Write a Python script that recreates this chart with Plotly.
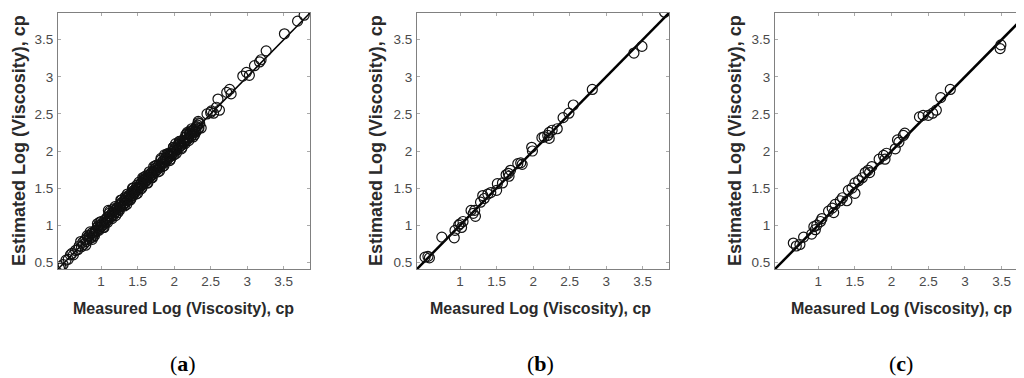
import plotly.graph_objects as go

W, H = 1024, 378

# ---- data ----
a_meas = [0.43,0.45,0.48,0.52,0.55,0.58,0.62,0.65,0.68,0.70,0.73,0.75,0.78,0.80,0.82,0.84,0.86,0.88,0.90,0.92,
          0.95,0.97,0.99,1.00,1.02,1.04,1.05,1.07,1.08,1.10,1.10,1.12,1.13,1.15,1.17,1.18,1.20,1.22,1.24,1.25,
          1.27,1.28,1.30,1.32,1.33,1.35,1.37,1.38,1.40,1.42,1.43,1.45,1.47,1.48,1.50,1.52,1.53,1.55,1.57,1.58,
          1.60,1.62,1.63,1.65,1.67,1.68,1.70,1.72,1.73,1.75,1.77,1.78,1.80,1.82,1.83,1.85,1.87,1.88,1.90,1.92,
          1.94,1.95,1.97,1.99,2.00,2.02,2.04,2.05,2.07,2.08,2.10,2.12,2.14,2.15,2.17,2.18,2.20,2.22,2.24,2.25,
          2.27,2.28,2.30,2.32,2.33,2.35,2.45,2.50,2.51,2.54,2.58,2.60,2.62,2.72,2.76,2.78,2.94,2.99,3.03,3.10,
          3.17,3.19,3.26,3.51,3.69,3.78,
          0.60,0.76,0.83,0.87,0.93,0.96,1.01,1.06,1.09,1.14,1.16,1.19,1.21,1.26,1.29,1.31,1.34,1.36,1.39,1.41,
          1.44,1.46,1.49,1.51,1.54,1.56,1.59,1.61,1.64,1.66,1.69,1.71,1.74,1.76,1.79,1.81,1.84,1.86,1.89,1.91,
          1.93,1.96,1.98,2.01,2.03,2.06,2.09,2.11,2.13,2.16,2.19,2.21,2.23,2.26,2.29,2.31,2.34,1.45,1.58,0.97,
          0.72,0.79,0.85,0.91,0.98,1.03,1.11,1.15,1.19,1.23,1.28,1.32,1.36,1.40,1.44,1.48,1.52,1.55,1.59,1.63,
          1.66,1.70,1.74,1.78,1.82,1.86,1.90,1.95,1.99,2.03,2.07,2.11,2.16,2.20,2.24,2.28,2.33,2.37,
          0.81,0.89,1.00,1.09,1.17,1.25,1.33,1.41,1.49,1.56,1.62,1.69,1.76,1.84,1.92,2.00,2.08,2.15,2.22,2.30,
          0.88,0.95,1.04,1.12,1.20,1.27,1.35,1.43,1.50,1.57,1.64,1.72,1.80,1.87,1.94,2.02,2.10,2.18,2.26,2.33]
a_est = [0.42,0.44,0.47,0.53,0.54,0.60,0.60,0.66,0.67,0.72,0.71,0.77,0.80,0.78,0.84,0.86,0.83,0.90,0.88,0.93,
         0.97,0.95,1.00,0.98,1.03,1.01,1.07,1.05,1.10,1.20,1.08,1.13,1.10,1.16,1.14,1.20,1.18,1.23,1.21,1.27,
         1.25,1.30,1.27,1.33,1.30,1.37,1.34,1.40,1.38,1.43,1.40,1.47,1.45,1.50,1.48,1.53,1.51,1.57,1.55,1.60,
         1.58,1.63,1.61,1.67,1.65,1.70,1.68,1.73,1.71,1.77,1.75,1.80,1.78,1.90,1.82,1.86,1.85,1.90,1.88,1.93,
         1.92,1.97,1.96,2.05,1.98,2.03,2.02,2.07,2.05,2.10,2.08,2.13,2.12,2.18,2.15,2.23,2.18,2.23,2.21,2.27,
         2.25,2.30,2.32,2.35,2.30,2.37,2.50,2.52,2.54,2.51,2.59,2.70,2.55,2.79,2.83,2.77,3.01,3.06,3.02,3.15,
         3.20,3.23,3.35,3.58,3.75,3.83,
         0.62,0.74,0.81,0.89,0.91,0.99,0.99,1.04,1.11,1.12,1.18,1.17,1.23,1.24,1.31,1.29,1.36,1.33,1.41,1.39,
         1.46,1.44,1.51,1.49,1.56,1.54,1.61,1.59,1.66,1.64,1.71,1.69,1.76,1.74,1.81,1.79,1.86,1.84,1.91,1.89,
         1.96,1.94,2.00,2.04,2.01,2.09,2.07,2.14,2.11,2.19,2.16,2.24,2.20,2.28,2.27,2.33,2.31,1.42,1.62,0.93,
         0.78,0.73,0.91,0.86,1.04,0.97,1.16,1.09,1.25,1.17,1.34,1.26,1.42,1.34,1.50,1.42,1.58,1.49,1.65,1.57,
         1.72,1.64,1.80,1.72,1.88,1.80,1.96,1.89,2.05,1.97,2.13,2.05,2.22,2.14,2.30,2.22,2.38,2.31,
         0.86,0.84,1.05,1.04,1.22,1.20,1.38,1.36,1.54,1.51,1.67,1.64,1.81,1.79,1.97,1.95,2.13,2.10,2.27,2.26,
         0.81,1.02,0.97,1.19,1.13,1.34,1.28,1.50,1.43,1.64,1.57,1.79,1.73,1.95,1.87,2.10,2.03,2.25,2.19,2.40]

b_meas = [3.80,3.49,3.38,2.81,2.55,2.49,2.41,2.33,2.26,2.22,2.20,2.15,2.12,2.22,1.98,1.99,1.83,1.79,1.85,1.69,
          1.66,1.67,1.63,1.58,1.51,1.50,1.42,1.38,1.31,1.33,1.28,1.20,1.18,1.21,1.15,1.04,1.00,0.98,1.02,0.93,
          0.92,0.75,0.56,0.52,0.58]
b_est = [3.87,3.41,3.32,2.83,2.62,2.51,2.45,2.30,2.28,2.25,2.21,2.19,2.18,2.17,2.05,2.00,1.84,1.83,1.82,1.74,
         1.70,1.66,1.68,1.57,1.56,1.47,1.44,1.42,1.40,1.36,1.31,1.20,1.16,1.12,1.20,1.05,1.02,1.00,0.97,0.93,
         0.83,0.84,0.58,0.57,0.56]

c_meas = [3.49,3.48,2.80,2.67,2.61,2.56,2.50,2.43,2.38,2.18,2.16,2.08,2.05,2.10,1.93,1.89,1.83,1.91,1.73,1.68,
          1.64,1.70,1.60,1.55,1.50,1.46,1.41,1.50,1.39,1.33,1.30,1.23,1.19,1.14,1.21,1.05,1.03,0.98,0.94,0.96,
          0.91,0.80,0.75,0.66,0.70]
c_est = [3.43,3.38,2.83,2.72,2.55,2.51,2.48,2.48,2.46,2.24,2.21,2.15,2.03,2.12,1.97,1.94,1.89,1.89,1.79,1.74,
         1.71,1.71,1.64,1.60,1.57,1.50,1.47,1.43,1.33,1.37,1.33,1.28,1.23,1.19,1.17,1.09,1.05,1.00,0.98,0.94,
         0.88,0.84,0.74,0.76,0.72]

axis_range = [0.41, 3.86]
tick_vals = [0.5, 1, 1.5, 2, 2.5, 3, 3.5]
x_tick_vals = [1, 1.5, 2, 2.5, 3, 3.5]
tick_text_y = ["0.5", "1", "1.5", "2", "2.5", "3", "3.5"]
tick_text_x = ["1", "1.5", "2", "2.5", "3", "3.5"]
panel_labels = ["a", "b", "c"]
x_title = "Measured Log (Viscosity), cp"
y_title = "Estimated Log (Viscosity), cp"

# ---- layout geometry (pixels) ----
panels_px = [(50, 302), (409, 661), (767, 1020)]
xtitle_cx = [175, 532, 893]
ytitle_cx = [11, 368, 727]
top_px, bot_px = 5, 261
line_widths = [1.5, 2.5, 2.5]

fig = go.Figure()
series = [(a_meas, a_est), (b_meas, b_est), (c_meas, c_est)]
for i, (mx, ey) in enumerate(series):
    xa = "x" if i == 0 else f"x{i+1}"
    ya = "y" if i == 0 else f"y{i+1}"
    fig.add_trace(go.Scatter(x=axis_range, y=axis_range, mode="lines",
                             line=dict(color="black", width=line_widths[i]),
                             xaxis=xa, yaxis=ya, showlegend=False, hoverinfo="skip"))
    fig.add_trace(go.Scatter(x=mx, y=ey, mode="markers",
                             marker=dict(symbol="circle-open", size=10, color="#111",
                                         line=dict(width=1.2, color="#111")),
                             xaxis=xa, yaxis=ya, showlegend=False))

layout = dict(width=W, height=H, margin=dict(l=0, r=0, t=0, b=0),
              paper_bgcolor="white", plot_bgcolor="white", showlegend=False)

axis_common = dict(range=axis_range, showgrid=False, zeroline=False, showline=True,
                   linecolor="#808080", linewidth=1, mirror="allticks", ticks="inside",
                   ticklen=3, tickcolor="#aaaaaa",
                   tickfont=dict(family="Arial, Liberation Sans", size=13.5, color="#4a4a4a"))

annotations = []
for i, (x0, x1) in enumerate(panels_px):
    sfx = "" if i == 0 else str(i + 1)
    dom_x = [x0 / W, x1 / W]
    dom_y = [1 - bot_px / H, 1 - top_px / H]
    layout["xaxis" + sfx] = dict(axis_common, domain=dom_x, anchor="y" + sfx,
                                 tickvals=x_tick_vals, ticktext=tick_text_x)
    layout["yaxis" + sfx] = dict(axis_common, domain=dom_y, anchor="x" + sfx,
                                 tickvals=tick_vals, ticktext=tick_text_y, ticklabelstandoff=1)
    annotations.append(dict(x=xtitle_cx[i] / W, y=1 - 300 / H, xref="paper", yref="paper",
                            text=f"<b>{x_title}</b>", showarrow=False,
                            font=dict(family="Arial, Liberation Sans", size=16, color="#2a2a2a"),
                            xanchor="center", yanchor="middle"))
    annotations.append(dict(x=ytitle_cx[i] / W, y=(1 - (top_px + bot_px) / 2 / H), xref="paper", yref="paper",
                            text=f"<b>{y_title}</b>", showarrow=False, textangle=-90,
                            font=dict(family="Arial, Liberation Sans", size=18, color="#2a2a2a"),
                            xanchor="center", yanchor="middle"))
    annotations.append(dict(x=xtitle_cx[i] / W, y=1 - 355 / H, xref="paper", yref="paper",
                            text=f"(<b>{panel_labels[i]}</b>)", showarrow=False,
                            font=dict(family="Liberation Serif, Times New Roman", size=22, color="black"),
                            xanchor="center", yanchor="middle"))
layout["annotations"] = annotations
fig.update_layout(**layout)
fig.write_html("out.html")
